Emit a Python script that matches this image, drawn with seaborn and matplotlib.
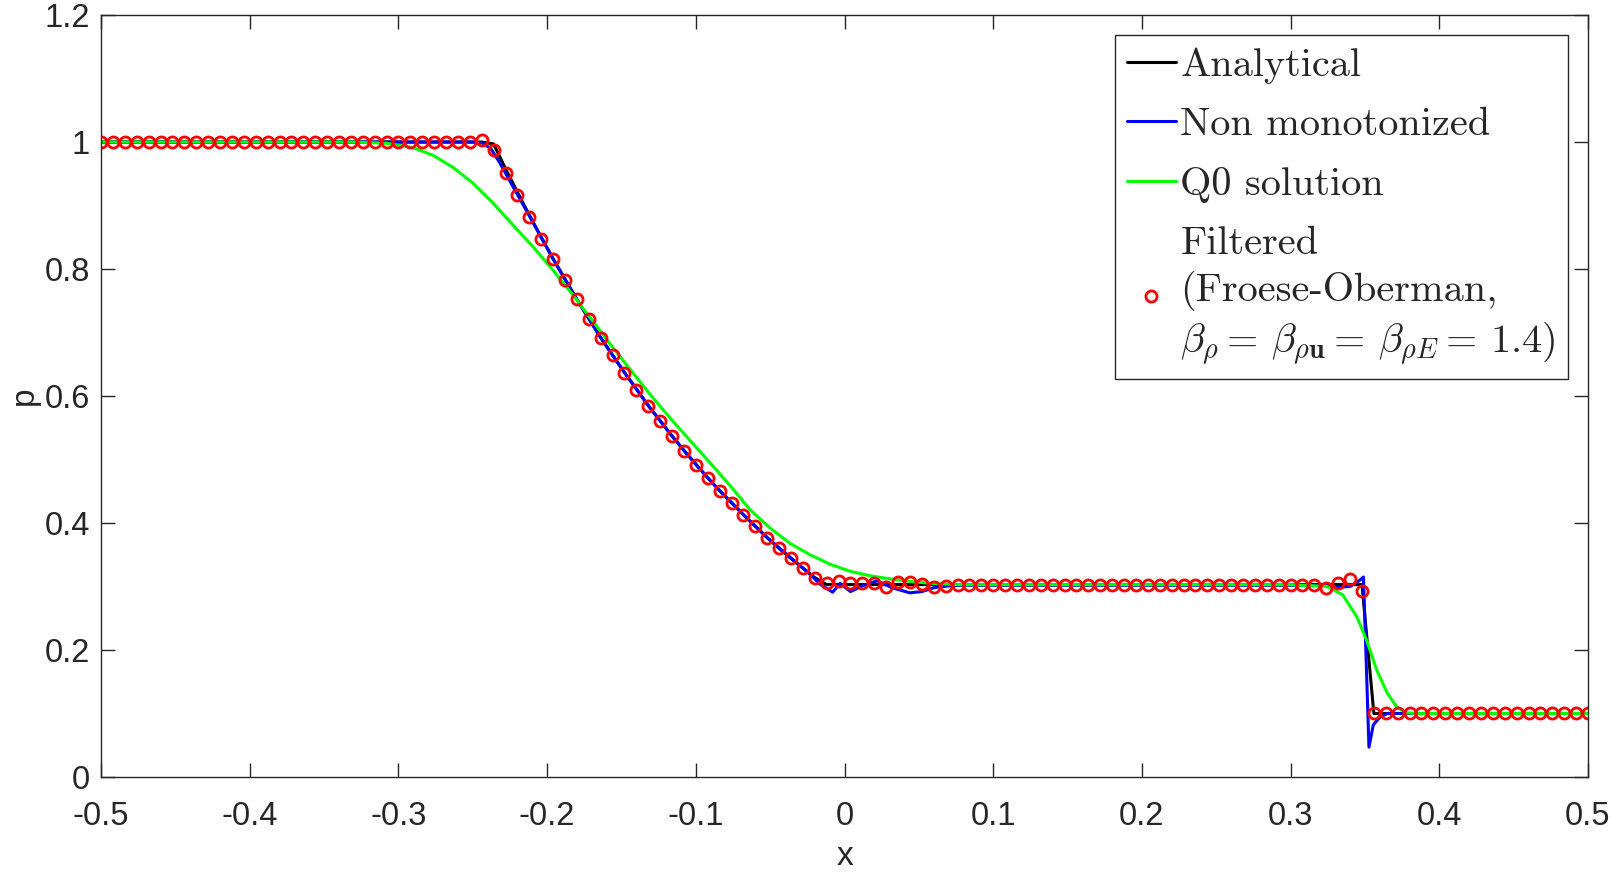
import numpy as np
import matplotlib
matplotlib.use("Agg")
import matplotlib.pyplot as plt
import seaborn as sns

# --- data ---
# analytical solution (breakpoints)
x_exact = [-0.5, -0.244, -0.236, -0.228, -0.220, -0.212, -0.204, -0.196, -0.188, -0.180,
           -0.172, -0.164, -0.156, -0.148, -0.140, -0.132, -0.124, -0.116, -0.108, -0.100,
           -0.092, -0.084, -0.076, -0.068, -0.060, -0.052, -0.044, -0.036, -0.028, -0.020,
           -0.012, 0.348, 0.356, 0.5]
p_exact = [1.0, 1.0, 0.997, 0.958, 0.921, 0.885, 0.850, 0.816, 0.784, 0.752,
           0.722, 0.692, 0.664, 0.637, 0.611, 0.585, 0.561, 0.537, 0.514, 0.493,
           0.471, 0.451, 0.432, 0.413, 0.395, 0.377, 0.360, 0.344, 0.329, 0.314,
           0.303, 0.303, 0.1, 0.1]

# non monotonized solution
x_nonmono = [-0.5, -0.250, -0.244, -0.238, -0.232, -0.224, -0.212, -0.196, -0.180, -0.164,
             -0.148, -0.132, -0.116, -0.100, -0.084, -0.068, -0.052, -0.036, -0.024, -0.016,
             -0.008, -0.003, 0.004, 0.012, 0.022, 0.032, 0.044, 0.052, 0.060, 0.070,
             0.080, 0.300, 0.325, 0.333, 0.340, 0.346, 0.349, 0.3527, 0.3556, 0.360,
             0.365, 0.5]
p_nonmono = [1.0, 1.0, 0.999, 0.99, 0.968, 0.934, 0.884, 0.816, 0.752, 0.692,
             0.637, 0.585, 0.537, 0.492, 0.451, 0.413, 0.377, 0.345, 0.321, 0.303,
             0.291, 0.305, 0.292, 0.301, 0.309, 0.298, 0.290, 0.292, 0.298, 0.301,
             0.302, 0.302, 0.302, 0.299, 0.300, 0.309, 0.315, 0.047, 0.082, 0.094,
             0.100, 0.100]

# Q0 solution
x_q0 = [-0.5, -0.33, -0.3077, -0.290, -0.2767, -0.2633, -0.2498, -0.2364, -0.2229, -0.2095,
        -0.196, -0.1826, -0.169, -0.1557, -0.1422, -0.1288, -0.1153, -0.102, -0.0905, -0.077,
        -0.0636, -0.050, -0.0367, -0.0232, -0.0097, 0.0037, 0.017, 0.0306, 0.044, 0.0575,
        0.075, 0.30, 0.3245, 0.335, 0.3446, 0.351, 0.358, 0.365, 0.3715, 0.378,
        0.385, 0.5]
p_q0 = [1.0, 1.0, 0.998, 0.991, 0.979, 0.960, 0.935, 0.904, 0.869, 0.835,
        0.798, 0.759, 0.717, 0.676, 0.636, 0.597, 0.560, 0.525, 0.495, 0.459,
        0.421, 0.392, 0.368, 0.350, 0.335, 0.324, 0.317, 0.312, 0.308, 0.305,
        0.303, 0.303, 0.300, 0.287, 0.252, 0.216, 0.168, 0.132, 0.110, 0.101,
        0.100, 0.100]

# filtered solution (markers, grid spacing 0.008)
x_filt = list(np.linspace(-0.5, 0.5, 126))
p_filt = ([1.0] * 32 + [1.003, 0.988, 0.952, 0.916, 0.882, 0.848, 0.815, 0.783, 0.752, 0.721,
                        0.692, 0.664, 0.637, 0.610, 0.585, 0.561, 0.537, 0.514, 0.492, 0.471,
                        0.451, 0.432, 0.413, 0.395, 0.377, 0.360, 0.345, 0.329, 0.313, 0.305,
                        0.309, 0.305, 0.305, 0.305, 0.299, 0.307, 0.307, 0.304, 0.299, 0.301,
                        0.302]
          + [0.303] * 30
          + [0.298, 0.305, 0.312, 0.293]
          + [0.1] * 19)

sns.set_theme(style="white")
plt.rcParams["font.family"] = ["Liberation Sans", "DejaVu Sans"]
plt.rcParams["mathtext.fontset"] = "cm"

fig = plt.figure(figsize=(16.12, 8.74), dpi=100)
ax = fig.add_axes([0.0627, 0.111, 0.9224, 0.8718])

sns.lineplot(x=x_exact, y=p_exact, color="black", lw=2.2, label="Analytical", ax=ax, sort=False)
sns.lineplot(x=x_nonmono, y=p_nonmono, color="#0000ff", lw=2.2, label="Non monotonized", ax=ax, sort=False)
sns.lineplot(x=x_q0, y=p_q0, color="#00ff00", lw=2.2, label="Q0 solution", ax=ax, sort=False)
sns.lineplot(x=x_filt, y=p_filt, color="red", linestyle="", marker="o", markersize=8,
             markerfacecolor="none", markeredgecolor="red", markeredgewidth=2,
             label="Filtered\n(Froese-Oberman,\n"
                   r"$\beta_\rho=\,\beta_{\rho\mathbf{u}}=\,\beta_{\rho E}=\,1.4$)",
             ax=ax, sort=False)

ax.set_xlim(-0.5, 0.5)
ax.set_ylim(0, 1.2)
ax.set_xticks(np.arange(-0.5, 0.51, 0.1))
ax.set_xticklabels(["-0.5", "-0.4", "-0.3", "-0.2", "-0.1", "0", "0.1", "0.2", "0.3", "0.4", "0.5"])
ax.set_yticks([0, 0.2, 0.4, 0.6, 0.8, 1.0, 1.2])
ax.set_yticklabels(["0", "0.2", "0.4", "0.6", "0.8", "1", "1.2"])
ax.tick_params(direction="in", length=10, width=1, colors="#262626", labelsize=23.5,
               top=True, right=True, bottom=True, left=True)
ax.tick_params(axis="x", pad=17)
ax.tick_params(axis="y", pad=8)
for s in ax.spines.values():
    s.set_color("#262626")
    s.set_linewidth(1.0)
ax.set_xlabel("x", fontsize=24, color="#262626", labelpad=7)
ax.set_ylabel("p", fontsize=24, color="#262626", labelpad=3)

leg = ax.legend(loc="upper right", prop={"family": "cmr10", "size": 29},
                frameon=True, fancybox=False, framealpha=1, edgecolor="#262626",
                handlelength=1.2, handletextpad=0.12, labelspacing=0.58,
                borderpad=0.3, borderaxespad=0.5)
leg.get_frame().set_linewidth(1.0)
for t in leg.get_texts():
    t.set_linespacing(1.3)

plt.savefig("out.png", dpi=100)
